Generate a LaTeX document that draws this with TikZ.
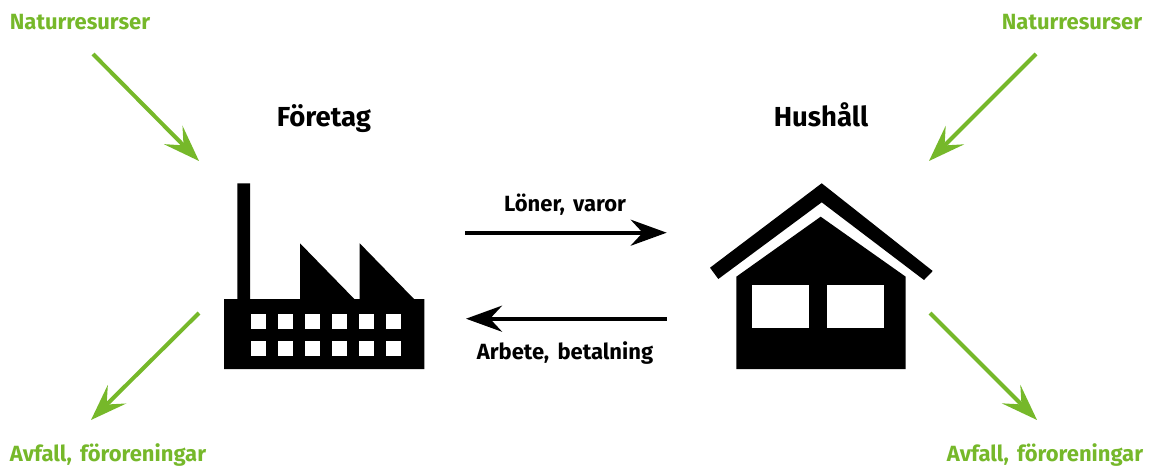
\documentclass[tikz,border=0pt]{standalone}
\usepackage{fontspec}
\setmainfont{Fira Sans}[BoldFont={Fira Sans Bold},WordSpace=1.6]
\usetikzlibrary{arrows.meta}
\definecolor{leaf}{HTML}{76B82A}
\tikzset{
  greenlabel/.style={text=leaf,font=\bfseries\fontsize{22}{26}\selectfont,inner sep=0pt,anchor=base},
  flowlabel/.style={text=black,font=\bfseries\fontsize{22}{26}\selectfont,inner sep=0pt,anchor=base},
  heading/.style={text=black,font=\bfseries\fontsize{27.5}{32}\selectfont,inner sep=0pt,anchor=base},
  greenarrow/.style={draw=leaf,line width=4pt,-{Stealth[length=36.5pt,width=26pt,inset=14.5pt]}},
  blackarrow/.style={draw=black,line width=4pt,-{Stealth[length=36pt,width=26pt,inset=12pt]}},
  solidshape/.style={fill=black,draw=none},
  pane/.style={fill=white,draw=none}
}
\begin{document}
\begin{tikzpicture}[x=1pt,y=-1pt]
\useasboundingbox (0,0) rectangle (1153,466);
% labels
\node[greenlabel] (natL) at (80,29) {Naturresurser};
\node[greenlabel] (natR) at (1072,29) {Naturresurser};
\node[greenlabel] (avfL) at (108,461) {Avfall, föroreningar};
\node[greenlabel] (avfR) at (1045,461) {Avfall, föroreningar};
\node[heading] (foretag) at (324,126.3) {Företag};
\node[heading] (hushall) at (821,126.3) {Hushåll};
\node[flowlabel] (loner) at (565,211) {Löner, varor};
\node[flowlabel] (arbete) at (565,359) {Arbete, betalning};
% factory
\fill[solidshape] (237.3,183.3) -- (250,183.3) -- (250,299) -- (300,299) -- (300,243.3)
  -- (354.3,299) -- (359.7,299) -- (359.7,243.3) -- (414,299) -- (424.3,299) -- (424.3,369)
  -- (224,369) -- (224,299) -- (237.3,299) -- cycle;
\foreach \wx in {251,278,305,332,359,386}
  \foreach \wy in {314,341}
    \fill[pane] (\wx,\wy) rectangle ++(15,15);
% house
\fill[solidshape] (821.7,183.3) -- (932.7,271) -- (924,280) -- (821.7,202.3) -- (718.3,279) -- (710,267.7) -- cycle;
\fill[solidshape] (820.7,216.7) -- (905.7,276.7) -- (905.7,369) -- (736.3,369) -- (736.3,276.7) -- cycle;
\fill[pane] (752.3,285) rectangle (809,327.7);
\fill[pane] (827.3,285) rectangle (884,327.7);
% connector ends
\coordinate (a1) at (93,54);    \coordinate (a2) at (199,161);
\coordinate (b1) at (1036,54);  \coordinate (b2) at (929,161);
\coordinate (c1) at (199,313);  \coordinate (c2) at (91,420);
\coordinate (d1) at (930,313);  \coordinate (d2) at (1037,420);
\coordinate (e1) at (465.3,232.7); \coordinate (e2) at (666.7,232.7);
\coordinate (f1) at (666.7,318.7); \coordinate (f2) at (466,318.7);
\draw[greenarrow] (a1) -- (a2);
\draw[greenarrow] (b1) -- (b2);
\draw[greenarrow] (c1) -- (c2);
\draw[greenarrow] (d1) -- (d2);
\draw[blackarrow] (e1) -- (e2);
\draw[blackarrow] (f1) -- (f2);
\end{tikzpicture}
\end{document}
